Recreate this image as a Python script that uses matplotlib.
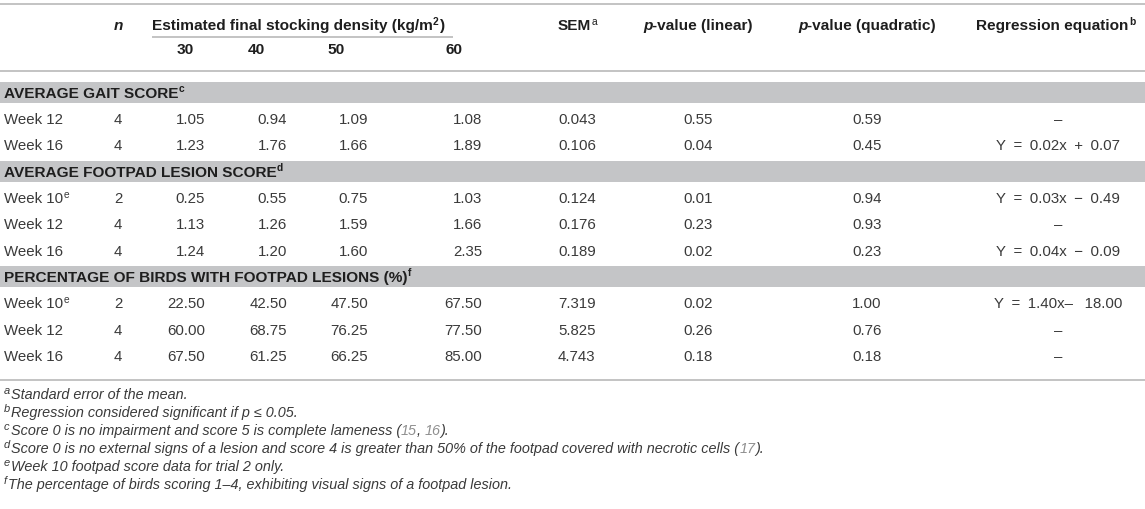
import matplotlib
matplotlib.use("Agg")
import matplotlib.pyplot as plt
from matplotlib.patches import Rectangle

plt.rcParams['font.family'] = ['Liberation Sans', 'DejaVu Sans']

# ---- table content ----
densities = ["30", "40", "50", "60"]

section_titles = ["AVERAGE GAIT SCORE",
                  "AVERAGE FOOTPAD LESION SCORE",
                  "PERCENTAGE OF BIRDS WITH FOOTPAD LESIONS (%)"]
section_marks = ["c", "d", "f"]

ES = "\u2002"  # en space, the equations are set a little wider

gait_weeks = ["Week 12", "Week 16"]
gait_week_marks = ["", ""]
gait_n = [4, 4]
gait_means = [[1.05, 0.94, 1.09, 1.08],
              [1.23, 1.76, 1.66, 1.89]]
gait_sem = [0.043, 0.106]
gait_p_lin = [0.55, 0.04]
gait_p_quad = [0.59, 0.45]
gait_eq = ["\u2013", f"Y{ES}={ES}0.02x{ES}+{ES}0.07"]

lesion_weeks = ["Week 10", "Week 12", "Week 16"]
lesion_week_marks = ["e", "", ""]
lesion_n = [2, 4, 4]
lesion_means = [[0.25, 0.55, 0.75, 1.03],
                [1.13, 1.26, 1.59, 1.66],
                [1.24, 1.20, 1.60, 2.35]]
lesion_sem = [0.124, 0.176, 0.189]
lesion_p_lin = [0.01, 0.23, 0.02]
lesion_p_quad = [0.94, 0.93, 0.23]
lesion_eq = [f"Y{ES}={ES}0.03x{ES}\u2212{ES}0.49", "\u2013",
             f"Y{ES}={ES}0.04x{ES}\u2212{ES}0.09"]

pct_weeks = ["Week 10", "Week 12", "Week 16"]
pct_week_marks = ["e", "", ""]
pct_n = [2, 4, 4]
pct_means = [[22.50, 42.50, 47.50, 67.50],
             [60.00, 68.75, 76.25, 77.50],
             [67.50, 61.25, 66.25, 85.00]]
pct_sem = [7.319, 5.825, 4.743]
pct_p_lin = [0.02, 0.26, 0.18]
pct_p_quad = [1.00, 0.76, 0.18]
pct_eq = [f"Y{ES}={ES}1.40x\u2013{ES} 18.00", "\u2013", "\u2013"]

footnote_marks = ["a", "b", "c", "d", "e", "f"]
footnote_texts = [
    "Standard error of the mean.",
    "Regression considered significant if p \u2264 0.05.",
    "Score 0 is no impairment and score 5 is complete lameness (",
    "Score 0 is no external signs of a lesion and score 4 is greater than 50% "
    "of the footpad covered with necrotic cells (",
    "Week 10 footpad score data for trial 2 only.",
    "The percentage of birds scoring 1\u20134, exhibiting visual signs of a footpad lesion.",
]
footnote_refs = [[], [], ["15", "16"], ["17"], [], []]

# ---- styling / layout ----
INK = "#3a3a3a"
HEAD = "#1e1e1e"
REF = "#8f8f8f"
BAND = "#c4c5c7"
RULE = "#b3b3b3"
BODY = 10.8
BOLD = 11.1
SUP = 7.4
NOTE = 10.4

W, H = 1145, 509
fig = plt.figure(figsize=(W / 100, H / 100), dpi=100)
ax = fig.add_axes([0, 0, 1, 1])
ax.set_xlim(0, W)
ax.set_ylim(H, 0)
ax.axis('off')
renderer = fig.canvas.get_renderer()


def text_width(s, **kw):
    t = ax.text(0, 0, s, **kw)
    w = t.get_window_extent(renderer).width
    t.remove()
    return w


def runs(x, yc, parts, ha='left', color=INK, size=BODY, weight='normal',
         style='normal', lift=5.4):
    # draws a line made of several styled pieces, yc = visual centre of caps
    base = yc + lift
    drawn = []
    for p in parts:
        if isinstance(p, str):
            p = (p, {})
        s, opt = p
        opt = dict(opt)
        dy = opt.pop('dy', 0)
        gap = opt.pop('gap', 0)
        kw = dict(color=color, fontsize=size, fontweight=weight,
                  fontstyle=style)
        kw.update(opt)
        t = ax.text(0, base + dy, s, va='baseline', ha='left', **kw)
        drawn.append((t, t.get_window_extent(renderer).width + gap))
    total = sum(w for _, w in drawn)
    if ha == 'center':
        x = x - total / 2
    elif ha == 'right':
        x = x - total
    for t, w in drawn:
        t.set_x(x)
        x += w


def sup(s, gap=0):
    return (s, {'fontsize': SUP, 'dy': -5.5, 'gap': gap})


def hrule(y, x0=0, x1=W):
    ax.plot([x0, x1], [y, y], color=RULE, lw=1.1, solid_capstyle='butt')


# column positions (pixels)
label_x = 4
n_x = 118
dens_right = [205, 287, 368, 482]
dens_head = [185, 256, 336, 454]
sem_x = 558
plin_x = 698
pquad_x = 867
eq_x = 1058

# ---- header ----
hrule(4)
hy1, hy2 = 25, 49
runs(n_x, hy1, [("n", {'fontstyle': 'italic'})], ha='center',
     color=HEAD, size=BOLD, weight='bold')
runs(152, hy1, ["Estimated final stocking density (kg/m", sup("2", 0.5), ")"],
     color=HEAD, size=BOLD, weight='bold')
hrule(37, 152, 453)
for d, cx in zip(densities, dens_head):
    runs(cx, hy2, [d], ha='center', color=HEAD, size=BOLD, weight='bold')
runs(sem_x, hy1, ["SEM", ("a", {'fontsize': SUP, 'dy': -5.5,
                                'fontweight': 'normal'})],
     color=HEAD, size=BOLD, weight='bold')
runs(plin_x, hy1, [("p", {'fontstyle': 'italic'}), "-value (linear)"],
     ha='center', color=HEAD, size=BOLD, weight='bold')
runs(pquad_x, hy1, [("p", {'fontstyle': 'italic'}), "-value (quadratic)"],
     ha='center', color=HEAD, size=BOLD, weight='bold')
runs(1056, hy1, ["Regression equation", sup("b", 0.5)], ha='center',
     color=HEAD, size=BOLD, weight='bold')
hrule(71)

# ---- body ----
sections = [
    (gait_weeks, gait_week_marks, gait_n, gait_means, gait_sem,
     gait_p_lin, gait_p_quad, gait_eq),
    (lesion_weeks, lesion_week_marks, lesion_n, lesion_means, lesion_sem,
     lesion_p_lin, lesion_p_quad, lesion_eq),
    (pct_weeks, pct_week_marks, pct_n, pct_means, pct_sem,
     pct_p_lin, pct_p_quad, pct_eq),
]

y = 92.5
pitch = 26.3
band_h = 21
for title, mark, sec in zip(section_titles, section_marks, sections):
    ax.add_patch(Rectangle((0, y - band_h / 2), W, band_h, color=BAND, lw=0))
    runs(label_x, y, [title, sup(mark, 0.5)], color=HEAD, size=BOLD,
         weight='bold')
    y += pitch
    weeks, wmarks, ns, means, sems, plin, pquad, eqs = sec
    for i in range(len(weeks)):
        lab = [weeks[i]] + ([sup(wmarks[i], 0.5)] if wmarks[i] else [])
        runs(label_x, y, lab)
        runs(n_x, y, [str(ns[i])], ha='center')
        for v, rx in zip(means[i], dens_right):
            runs(rx, y, ["%.2f" % v], ha='right')
        runs(sem_x, y, ["%.3f" % sems[i]])
        runs(plin_x, y, ["%.2f" % plin[i]], ha='center')
        runs(pquad_x, y, ["%.2f" % pquad[i]], ha='center')
        runs(eq_x, y, [eqs[i]], ha='center')
        y += pitch

hrule(380)

# ---- footnotes ----
space = (text_width("x x", fontsize=NOTE, fontstyle='italic')
         - text_width("xx", fontsize=NOTE, fontstyle='italic'))
fy = 394
for mark, txt, refs in zip(footnote_marks, footnote_texts, footnote_refs):
    parts = [(mark, {'fontsize': 8.0, 'dy': -4.5, 'gap': 1}), txt]
    for k, r in enumerate(refs):
        parts.append((r, {'color': REF}))
        if k < len(refs) - 1:
            parts.append((",", {'gap': space}))
    if refs:
        parts.append(").")
    runs(label_x, fy, parts, size=NOTE, style='italic', lift=4.9)
    fy += 18

fig.savefig("out.png", dpi=100)
